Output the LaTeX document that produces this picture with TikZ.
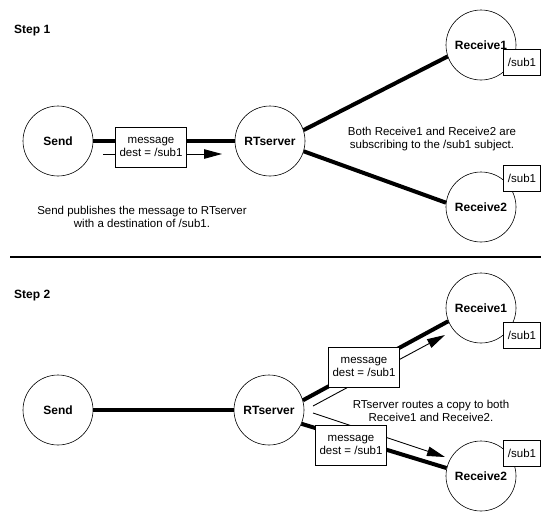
\documentclass[tikz,border=0pt]{standalone}
\usepackage{fontspec}
\setmainfont{Liberation Sans}
\usetikzlibrary{arrows.meta}

\begin{document}
\begin{tikzpicture}[x=1pt, y=-1pt,
        proc/.style={circle, draw, line width=0.6pt, minimum size=70pt, inner sep=0pt, font=\fontsize{12}{14}\selectfont\bfseries},
        subj/.style={draw, fill=white, line width=0.6pt, minimum width=37pt, minimum height=26pt, inner sep=1pt, font=\fontsize{11.5}{13}\selectfont},
        msg/.style={draw, fill=white, line width=0.6pt, minimum width=71pt, minimum height=40pt, inner sep=1pt, align=center, font=\fontsize{11.5}{12.5}\selectfont},
        note/.style={align=center, font=\fontsize{11.5}{12.5}\selectfont},
        steplabel/.style={anchor=west, inner sep=0pt, font=\fontsize{12}{13}\selectfont\bfseries},
        link/.style={line width=4pt},
        copy/.style={line width=0.9pt, -{Triangle[length=18pt,width=9.5pt]}}]
        \useasboundingbox (0,0) rectangle (551,515);

        % Step 1
        \node[steplabel] (step1) at (14,31) {Step 1};
        \node[proc] (send1) at (58,141) {Send};
        \node[proc] (rts1)  at (270,141) {RTserver};
        \node[proc] (rcv1a) at (481,45)  {Receive1};
        \node[proc] (rcv2a) at (481,207) {Receive2};
        \node[subj] (sub1a) at (522,62)  {/sub1};
        \node[subj] (sub2a) at (522,178) {/sub1};

        \draw[link] (send1.east)--(rts1.west);
        \draw[link] (rts1.18)--(rcv1a.199);
        \draw[link] (rts1.343)--(rcv2a.173);

        \coordinate (c1s) at (103,154);
        \coordinate (c1e) at (222,154);
        \draw[copy] (c1s)--(c1e);
        \node[msg] (msg1) at (151,147) {message\\dest = /sub1};

        \node[note] (txt1) at (142,217) {Send publishes the message to RTserver\\with a destination of /sub1.};
        \node[note] (txt2) at (432,139) {Both Receive1 and Receive2 are\\subscribing to the /sub1 subject.};

        \draw[line width=1.2pt] (10,257)--(541,257);

        % Step 2
        \node[steplabel] (step2) at (14,296) {Step 2};
        \node[proc] (send2) at (58,410)  {Send};
        \node[proc] (rts2)  at (269,410) {RTserver};
        \node[proc] (rcv1b) at (481,308) {Receive1};
        \node[proc] (rcv2b) at (481,476) {Receive2};
        \node[subj] (sub1b) at (522,335) {/sub1};
        \node[subj] (sub2b) at (522,453) {/sub1};

        \draw[link] (send2.east)--(rts2.west);
        \draw[link] (rts2.16)--(rcv1b.202);
        \draw[link] (rts2.337)--(rcv2b.167);

        \coordinate (c2s) at (313,406);
        \coordinate (c2e) at (445,335);
        \coordinate (c3s) at (313,413);
        \coordinate (c3e) at (445,457);
        \draw[copy] (c2s)--(c2e);
        \draw[copy] (c3s)--(c3e);
        \node[msg] (msg2) at (364,367) {message\\dest = /sub1};
        \node[msg] (msg3) at (351,445) {message\\dest = /sub1};

        \node[note] (txt3) at (431,411) {RTserver routes a copy to both\\Receive1 and Receive2.};
\end{tikzpicture}
\end{document}
